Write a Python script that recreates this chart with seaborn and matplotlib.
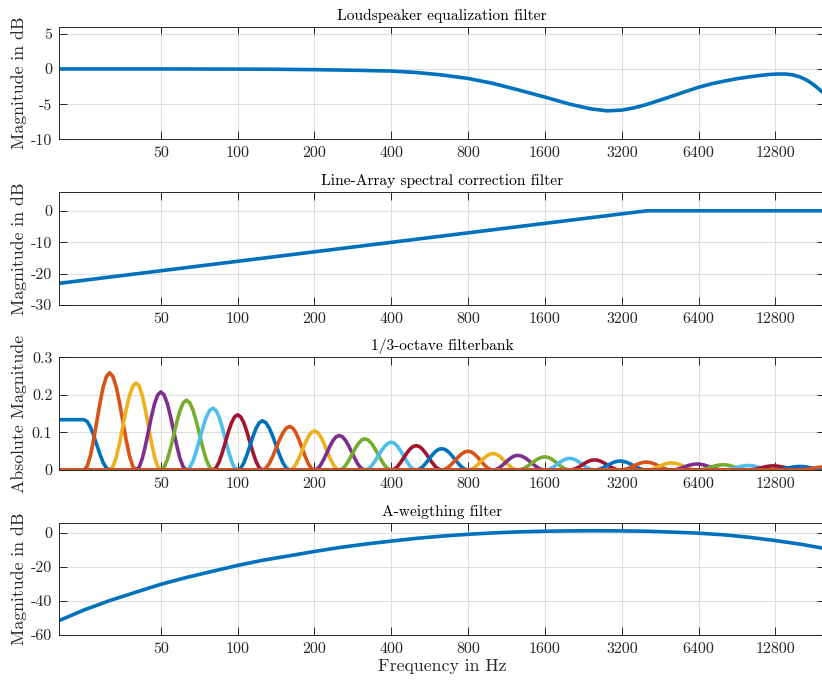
import numpy as np
import pandas as pd
import seaborn as sns
import matplotlib.pyplot as plt

sns.set_style("ticks")
plt.rcParams['font.family'] = ['cmr10', 'DejaVu Serif']
plt.rcParams['mathtext.fontset'] = 'cm'
plt.rcParams['axes.unicode_minus'] = False
plt.rcParams['axes.formatter.use_mathtext'] = True

# matlab default colours
colors = ['#0072BD', '#D95319', '#EDB120', '#7E2F8E', '#77AC30', '#4DBEEE', '#A2142F']

xticks = [50, 100, 200, 400, 800, 1600, 3200, 6400, 12800]
xticklabels = ['50', '100', '200', '400', '800', '1600', '3200', '6400', '12800']

# loudspeaker eq
ls_f = [20, 50, 100, 150, 200, 300, 400, 500, 630, 800, 1000, 1250, 1600, 2000, 2400, 2800,
        3200, 3600, 4000, 4500, 5000, 5700, 6400, 7200, 8000, 9000, 10000, 11000, 12000, 13000,
        14000, 15000, 16000, 17000, 18000, 19000, 20000]
ls_db = [0.0, 0.0, -0.02, -0.05, -0.1, -0.2, -0.3, -0.5, -0.85, -1.35, -2.05, -2.95, -4.0, -5.0, -5.65, -5.95,
         -5.85, -5.5, -5.05, -4.45, -3.9, -3.2, -2.6, -2.1, -1.75, -1.4, -1.15, -0.95, -0.8, -0.72,
         -0.72, -0.85, -1.15, -1.6, -2.2, -2.9, -3.6]

# line array correction
la_f = [20, 4000, 20000]
la_db = [-23.1, 0.0, 0.0]

# a-weighting
aw_f = [20, 25, 31.5, 40, 50, 63, 80, 100, 125, 160, 200, 250, 315, 400, 500, 630, 800, 1000,
        1250, 1600, 2000, 2500, 3150, 4000, 5000, 6300, 8000, 10000, 12500, 16000, 20000]
aw_db = [-51.5, -45.3, -39.8, -34.8, -30.2, -26.2, -22.5, -19.1, -16.1, -13.4, -10.9, -8.6, -6.6, -4.8,
         -3.2, -1.9, -0.8, 0.0, 0.6, 1.0, 1.2, 1.3, 1.2, 1.0, 0.5, -0.1, -1.1, -2.5, -4.3, -6.6, -9.2]

# 1/3 octave filterbank: band centres and peak heights
fb_centers = [25, 31.5, 40, 50, 63, 80, 100, 125, 160, 200, 250, 315, 400, 500, 630, 800, 1000,
              1250, 1600, 2000, 2500, 3150, 4000, 5000, 6300, 8000, 10000, 12500, 16000, 20000]
fb_peaks = [0.134, 0.259, 0.232, 0.208, 0.186, 0.165, 0.147, 0.131, 0.116, 0.104, 0.092, 0.083, 0.074,
            0.065, 0.057, 0.050, 0.044, 0.039, 0.035, 0.031, 0.027, 0.024, 0.021, 0.019, 0.016, 0.014,
            0.012, 0.011, 0.0095, 0.0085]
# rising flank shape of one band (fraction of peak)
flank = [0, 0.038, 0.146, 0.309, 0.5, 0.691, 0.854, 0.962, 1]

rows = []
nb = len(fb_centers)
lc = np.log(fb_centers)
for k in range(nb):
    fs, ms = [], []
    if k == 0:
        fs += [20]
        ms += [fb_peaks[k]]
    else:
        fs += [20]
        ms += [0]
        for i, v in enumerate(flank):
            t = i / (len(flank) - 1)
            fs.append(np.exp(lc[k-1] + t * (lc[k] - lc[k-1])))
            ms.append(v * fb_peaks[k])
    if k == nb - 1:
        fs += [20000]
        ms += [fb_peaks[k]]
    else:
        for i, v in enumerate(flank[::-1]):
            t = i / (len(flank) - 1)
            fs.append(np.exp(lc[k] + t * (lc[k+1] - lc[k])))
            ms.append(v * fb_peaks[k])
        fs += [20000]
        ms += [0]
    for f, m in zip(fs, ms):
        rows.append((k, f, m))
fb = pd.DataFrame(rows, columns=['band', 'f', 'mag'])

fig = plt.figure(figsize=(8.22, 6.8), dpi=100)
L, W = 0.0721, 0.9315
pos = [(0.7951, 0.1656), (0.5515, 0.1662), (0.3088, 0.1657), (0.0662, 0.1651)]
axs = [fig.add_axes([L, b, W, h]) for b, h in pos]

lw = 2.6
sns.lineplot(x=ls_f, y=ls_db, ax=axs[0], color=colors[0], lw=lw, sort=False, estimator=None)
sns.lineplot(x=la_f, y=la_db, ax=axs[1], color=colors[0], lw=lw, sort=False, estimator=None)
pal = [colors[k % 7] for k in range(nb)]
sns.lineplot(data=fb, x='f', y='mag', hue='band', palette=pal, ax=axs[2], lw=lw,
             sort=False, estimator=None, legend=False)
sns.lineplot(x=aw_f, y=aw_db, ax=axs[3], color=colors[0], lw=lw, sort=False, estimator=None)

titles = ['Loudspeaker equalization filter', 'Line-Array spectral correction filter',
          '1/3-octave filterbank', 'A-weigthing filter']
ylabels = ['Magnitude in dB', 'Magnitude in dB', 'Absolute Magnitude', 'Magnitude in dB']
ylims = [(-10, 6), (-30, 6), (0, 0.3), (-60, 6)]
yticks = [[-10, -5, 0, 5], [-30, -20, -10, 0], [0, 0.1, 0.2, 0.3], [-60, -40, -20, 0]]
yticklabels = [['-10', '-5', '0', '5'], ['-30', '-20', '-10', '0'], ['0', '0.1', '0.2', '0.3'],
               ['-60', '-40', '-20', '0']]

for i, ax in enumerate(axs):
    ax.set_xscale('log')
    ax.set_xlim(20, 20000)
    ax.set_ylim(*ylims[i])
    ax.set_xticks(xticks)
    ax.set_xticklabels(xticklabels)
    ax.minorticks_off()
    ax.set_yticks(yticks[i])
    ax.set_yticklabels(yticklabels[i])
    ax.grid(True, color='#dfdfdf', lw=0.8)
    ax.set_axisbelow(True)
    ax.tick_params(direction='in', top=True, right=True, length=5.5, width=0.7,
                   color='#262626', labelsize=11.5, labelcolor='#262626', pad=5)
    for s in ax.spines.values():
        s.set_color('#262626')
        s.set_linewidth(0.7)
    ax.set_title(titles[i], fontsize=11.2, color='#000000', pad=5)
    ax.set_ylabel(ylabels[i], fontsize=12.8, color='#262626')
    ax.yaxis.set_label_coords(-0.042, 0.5)
    ax.set_xlabel('')
axs[3].set_xlabel('Frequency in Hz', fontsize=12.8, color='#262626', labelpad=2)

fig.savefig('out.png', dpi=100)
